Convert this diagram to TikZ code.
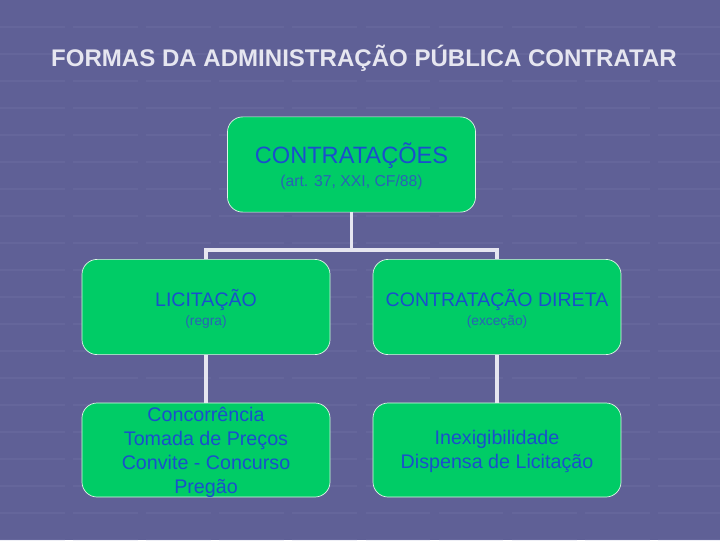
\documentclass[tikz,border=0pt]{standalone}
\usepackage{fontspec}
\setmainfont{Liberation Sans}
\usetikzlibrary{positioning}
\definecolor{SlideBack}{HTML}{5F6096}
\definecolor{SlideTex}{HTML}{8A8BBE}
\definecolor{BoxGreen}{HTML}{00CC66}
\definecolor{BoxEdge}{HTML}{DDF5E6}
\definecolor{BoxText}{HTML}{1A4FCC}
\definecolor{SubText}{HTML}{2A62B6}
\definecolor{TreeLine}{HTML}{E6E6F0}

\begin{document}
\begin{tikzpicture}[x=0.025cm,y=-0.025cm,
  orgbox/.style={draw=BoxEdge,line width=0.5pt,fill=BoxGreen,rounded corners=0.38cm,
    minimum width=6.2cm,minimum height=2.38cm,inner sep=0pt},
  boxlabel/.style={anchor=base,align=center,text=BoxText,inner sep=0pt},
  sublabel/.style={anchor=base,text=SubText,inner sep=0pt},
  tree/.style={draw=TreeLine,line width=2.3pt}]
\path[use as bounding box] (0,0) rectangle (720,540);
\fill[SlideBack] (0,0) rectangle (720,540);
% faint texture of the slide
\foreach \yy in {27,54,...,540}
  \draw[SlideTex,opacity=.14,line width=1.2pt,dash pattern=on 46pt off 6pt] (0,\yy) -- (720,\yy);

\node[anchor=base,text=TreeLine,font=\bfseries\fontsize{17.1}{20}\selectfont] (title) at (364,66.5)
  {FORMAS DA ADMINISTRAÇÃO PÚBLICA CONTRATAR};

% boxes
\node[orgbox] (contr) at (351.5,164.5) {};
\node[orgbox] (licit) at (206,307) {};
\node[orgbox] (direta) at (497,307) {};
\node[orgbox,minimum height=2.35cm] (modal) at (206,450) {};
\node[orgbox,minimum height=2.35cm] (hipot) at (497,450) {};

% box texts (base = last line)
\node[boxlabel,font=\fontsize{16.8}{19}\selectfont] (contrName) at (351.5,163.5) {CONTRATAÇÕES};
\node[sublabel,font=\fontsize{11.2}{13}\selectfont] (contrSub) at (351.5,186.5) {(art. 37, XXI, CF/88)};
\node[boxlabel,font=\fontsize{13.9}{17}\selectfont] (licitName) at (206,306) {LICITAÇÃO};
\node[sublabel,font=\fontsize{9.8}{12}\selectfont] (licitSub) at (206,325) {(regra)};
\node[boxlabel,font=\fontsize{13.9}{17}\selectfont] (diretaName) at (497,306) {CONTRATAÇÃO DIRETA};
\node[sublabel,font=\fontsize{9.8}{12}\selectfont] (diretaSub) at (497,325) {(exceção)};
\node[boxlabel,font=\fontsize{14}{17}\selectfont] (modalList) at (206,493.3)
  {Concorrência\\Tomada de Preços\\Convite - Concurso\\Pregão};
\node[boxlabel,font=\fontsize{14}{17}\selectfont] (hipotList) at (497,468.5)
  {Inexigibilidade\\Dispensa de Licitação};

% connectors
\coordinate (split) at (351.5,250);
\draw[tree] (contr.south) -- (split);
\draw[tree] (licit.north) |- (split) -| (direta.north);
\draw[tree] (licit.south) -- (modal.north);
\draw[tree] (direta.south) -- (hipot.north);
\end{tikzpicture}
\end{document}
